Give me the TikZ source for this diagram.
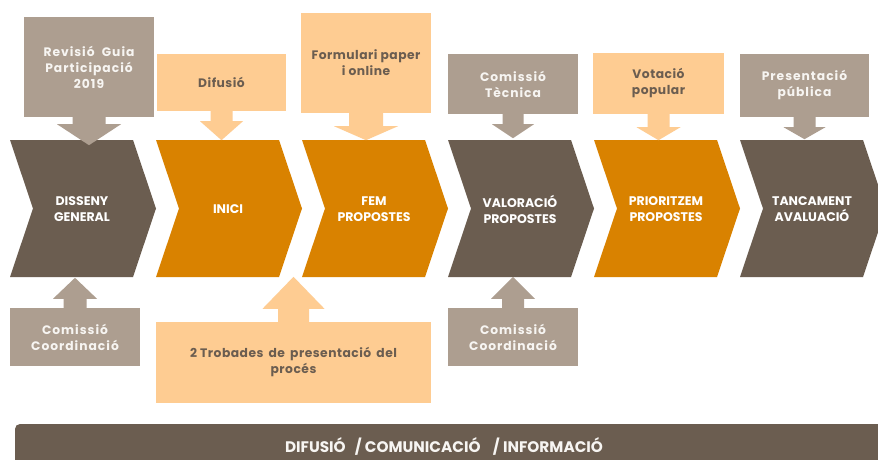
\documentclass[tikz,border=0pt]{standalone}
\usepackage{fontspec}
\setmainfont{Poppins}
\usetikzlibrary{calc}
\definecolor{brn}{HTML}{6B5D50}
\definecolor{org}{HTML}{D98200}
\definecolor{tan}{HTML}{AD9E90}
\definecolor{pch}{HTML}{FECC92}
\definecolor{lite}{HTML}{F7F5F2}
\definecolor{dtxt}{HTML}{6B5D50}
% chevron: #1 name, #2 colour, #3 left x, #4 text
\newcommand\mychev[4]{%
  \fill[#2] (#3,140) -- ++(123,0) -- ++(23,68.5) -- ++(-23,68.5) -- ++(-123,0) -- ++(23,-68.5) -- cycle;
  \node[chevtext] (#1) at (#3+72,209) {#4};
}
% down arrow under box: #1 box, #2 colour, #3 stem half, #4 stem length, #5 head half, #6 head length
\newcommand\mydown[6]{%
  \fill[#2] let \p1=(#1.south) in
    (\x1-#3pt,\y1+0.5pt) -- (\x1-#3pt,\y1-#4pt) -- (\x1-#5pt,\y1-#4pt) -- (\x1,\y1-#4pt-#6pt)
    -- (\x1+#5pt,\y1-#4pt) -- (\x1+#3pt,\y1-#4pt) -- (\x1+#3pt,\y1+0.5pt) -- cycle;
}
\newcommand\myup[6]{%
  \fill[#2] let \p1=(#1.north) in
    (\x1-#3pt,\y1-0.5pt) -- (\x1-#3pt,\y1+#4pt) -- (\x1-#5pt,\y1+#4pt) -- (\x1,\y1+#4pt+#6pt)
    -- (\x1+#5pt,\y1+#4pt) -- (\x1+#3pt,\y1+#4pt) -- (\x1+#3pt,\y1-0.5pt) -- cycle;
}
\begin{document}
\begin{tikzpicture}[x=1pt,y=-1pt,
  chevtext/.style={text=white,font=\bfseries\fontsize{12.5}{16}\selectfont,align=center,inner sep=0pt},
  tanbox/.style={fill=tan,text=lite,font=\bfseries\fontsize{12.3}{16}\selectfont\addfontfeatures{LetterSpace=8},align=center,inner sep=0pt},
  pchbox/.style={fill=pch,text=dtxt,font=\bfseries\fontsize{12.3}{16}\selectfont\addfontfeatures{LetterSpace=4},align=center,inner sep=0pt},
  bartext/.style={text=lite,font=\bfseries\fontsize{15.3}{18}\selectfont,inner sep=0pt}]
\useasboundingbox (0,0) rectangle (878,460);
\clip (0,0) rectangle (878,460);
\fill[white] (0,0) rectangle (878,460);

% chevrons
\mychev{c1}{brn}{10}{DISSENY\\GENERAL}
\mychev{c2}{org}{156}{INICI}
\mychev{c3}{org}{302}{FEM\\PROPOSTES}
\mychev{c4}{brn}{448}{VALORACIÓ\\PROPOSTES}
\mychev{c5}{org}{594}{PRIORITZEM\\PROPOSTES}
\mychev{c6}{brn}{740}{TANCAMENT\\AVALUACIÓ}

% top boxes
\node[tanbox,minimum width=130pt,minimum height=99pt] (t1) at (89,67) {Revisió \ Guia\\Participació\\2019};
\node[pchbox,minimum width=129pt,minimum height=57pt] (t2) at (221.5,82.5) {Difusió};
\node[pchbox,minimum width=130pt,minimum height=99pt] (t3) at (366,63) {Formulari paper\\i online};
\node[tanbox,minimum width=130pt,minimum height=60pt] (t4) at (513,84) {Comissió\\Tècnica};
\node[pchbox,minimum width=131pt,minimum height=61pt] (t5) at (658.5,83.5) {Votació\\popular};
\node[tanbox,minimum width=129pt,minimum height=63pt] (t6) at (804.5,85.5) {Presentació\\pública};

\mydown{t1}{tan}{16.5}{7.5}{32}{21}
\mydown{t2}{pch}{11}{10}{21.5}{19}
\mydown{t3}{pch}{17}{13.5}{32}{14}
\mydown{t4}{tan}{10.5}{10}{21}{14}
\mydown{t5}{pch}{11}{13}{22}{13}
\mydown{t6}{tan}{11}{10}{21}{12}

% bottom boxes
\node[tanbox,minimum width=130pt,minimum height=58pt] (b1) at (75,337) {Comissió\\Coordinació};
\node[pchbox,minimum width=275pt,minimum height=81pt] (b2) at (293.5,362.5) {2 Trobades \,de \,presentació \,del\\procés};
\node[tanbox,minimum width=130pt,minimum height=58pt] (b3) at (513,337) {Comissió\\Coordinació};

\myup{b1}{tan}{11.5}{9}{22}{21}
\myup{b2}{pch}{15.5}{13}{31}{32}
\myup{b3}{tan}{11}{9}{22}{22}

% bottom bar
\fill[brn,rounded corners=5pt] (15,424) rectangle (910,480);
\node[bartext] (bar) at (444,446) {DIFUSIÓ \ \,/ COMUNICACIÓ \ \ \,/ INFORMACIÓ};
\end{tikzpicture}
\end{document}
